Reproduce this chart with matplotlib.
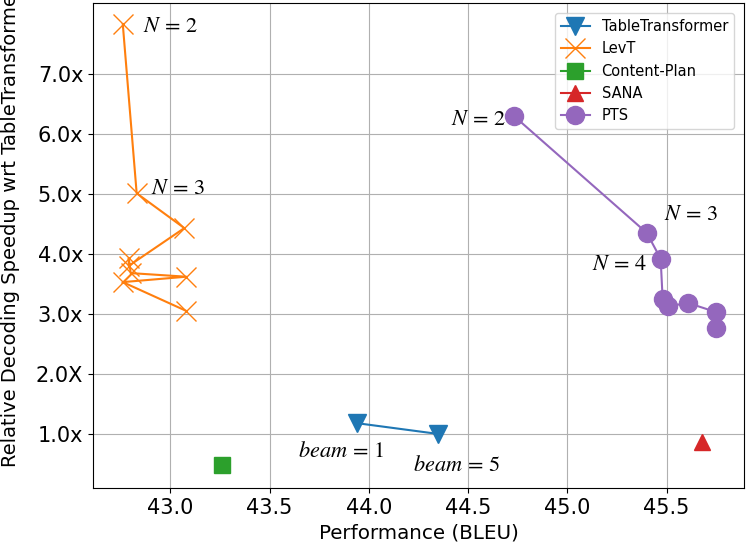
import numpy as np
import matplotlib
matplotlib.use("Agg")
import matplotlib.pyplot as plt

plt.rcParams['mathtext.fontset'] = 'stix'

# data
tt_bleu = [43.94, 44.35]
tt_speed = [1.18, 1.0]

levt_bleu = [42.76, 42.83, 43.07, 42.79, 42.79, 42.80, 43.08, 42.76, 43.08]
levt_speed = [7.83, 5.01, 4.43, 3.80, 3.93, 3.68, 3.62, 3.53, 3.05]

cp_bleu = [43.26]
cp_speed = [0.48]

sana_bleu = [45.68]
sana_speed = [0.87]

pts_bleu = [44.73, 45.40, 45.47, 45.48, 45.505, 45.61, 45.75, 45.75]
pts_speed = [6.30, 4.35, 3.92, 3.25, 3.13, 3.18, 3.03, 2.77]

yticks = [1, 2, 3, 4, 5, 6, 7]
ytick_labels = ['1.0x', '2.0X', '3.0x', '4.0x', '5.0x', '6.0x', '7.0x']
xticks = [43.0, 43.5, 44.0, 44.5, 45.0, 45.5]

fig = plt.figure(figsize=(7.47, 5.45), dpi=100)
ax = fig.add_axes([0.1245, 0.1046, 0.8715, 0.8899])

ax.plot(tt_bleu, tt_speed, '-v', color='C0', markersize=13, label='TableTransformer')
ax.plot(levt_bleu, levt_speed, '-x', color='C1', markersize=15, label='LevT')
ax.plot(cp_bleu, cp_speed, '-s', color='C2', markersize=11, label='Content-Plan')
ax.plot(sana_bleu, sana_speed, '-^', color='C3', markersize=12, label='SANA')
ax.plot(pts_bleu, pts_speed, '-o', color='C4', markersize=13, label='PTS')

# annotations
fs = 16
ax.text(42.86, 7.79, r'$N\,=\,2$', fontsize=fs, va='center')
ax.text(42.90, 5.10, r'$N\,=\,3$', fontsize=fs, va='center')
ax.text(44.69, 6.25, r'$N\,=\,2$', fontsize=fs, va='center', ha='right')
ax.text(45.485, 4.67, r'$N\,=\,3$', fontsize=fs, va='center')
ax.text(45.125, 3.84, r'$N\,=\,4$', fontsize=fs, va='center')
ax.text(43.645, 0.71, r'$beam\,=\,1$', fontsize=fs, va='center')
ax.text(44.22, 0.48, r'$beam\,=\,5$', fontsize=fs, va='center')

ax.set_xlim(42.61, 45.89)
ax.set_ylim(0.1, 8.18)
ax.set_xticks(xticks)
ax.set_yticks(yticks)
ax.set_yticklabels(ytick_labels)
ax.tick_params(labelsize=15)
ax.grid(True)

ax.set_xlabel('Performance (BLEU)', fontsize=14.3)
ax.set_ylabel('Relative Decoding Speedup wrt TableTransformer', fontsize=14,
              ha='left', va='center')
ax.yaxis.set_label_coords(-0.126, 0.043)

ax.legend(loc='upper right', fontsize=10.5, borderaxespad=0.7)

fig.savefig('out.png', dpi=100)
